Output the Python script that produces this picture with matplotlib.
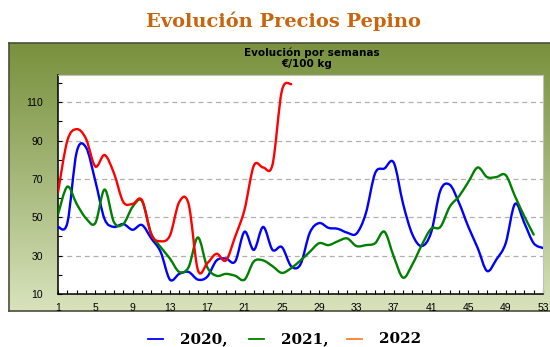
import numpy as np
import matplotlib
matplotlib.use("Agg")
import matplotlib.pyplot as plt
from matplotlib.path import Path
from matplotlib.patches import PathPatch
from matplotlib.lines import Line2D

# weekly cucumber prices, €/100 kg
weeks = list(range(1, 54))
p2020 = [45, 47, 84, 86.5, 69, 49, 45, 46.5, 43.5, 46,
         39, 32, 17.5, 20.5, 21.5, 17.5, 19, 27.5, 28.5, 27,
         42.5, 33, 45, 33, 34.5, 24.5, 25.5, 42, 47, 44.5,
         44, 42, 41.5, 52, 73, 75.5, 78.5, 57, 41, 35,
         42, 64, 67, 57.5, 45, 34, 22, 28, 36.5, 57,
         47, 36.5, 34]
p2021 = [51.5, 66, 57, 49.5, 47, 64.5, 47.5, 46.5, 55.5, 58.5,
         41.5, 34.5, 28.5, 21.5, 24, 39.5, 24, 19.5, 20.5, 19.5,
         17.5, 27, 27.5, 24.5, 21, 23.5, 27.5, 32, 36.5, 35.5,
         37.5, 39, 35, 35.5, 36.5, 42.5, 29.5, 18.5, 25.5, 35.5,
         44, 45, 55.5, 61, 68.5, 76, 71, 71, 72, 61,
         50.5, 41]
p2022 = [63, 90, 96, 91, 76.5, 82.5, 73, 58, 57, 59,
         41, 37.5, 40.5, 58, 57, 22.5, 26, 31, 27.5, 40,
         54, 77, 76, 77.5, 116, 119.5]

series = [("2020", p2020, "#0000ff"),
          ("2021", p2021, "#008000"),
          ("2022", p2022, "#ff0000")]
legend_colors = ["#0000ff", "#008000", "#ff7f27"]

W, H = 550, 347


def px(x0, y0, x1, y1):
    # pixel box (top-left origin) -> figure fraction rect
    return [x0 / W, 1 - y1 / H, (x1 - x0) / W, (y1 - y0) / H]


def smooth_path(xs, ys):
    # catmull-rom through the points, written as cubic bezier segments
    pts = np.column_stack([xs, ys]).astype(float)
    verts = [pts[0]]
    codes = [Path.MOVETO]
    n = len(pts)
    for i in range(n - 1):
        p0 = pts[i - 1] if i > 0 else pts[i]
        p1, p2 = pts[i], pts[i + 1]
        p3 = pts[i + 2] if i + 2 < n else pts[i + 1]
        c1 = p1 + (p2 - p0) / 6.0
        c2 = p2 - (p3 - p1) / 6.0
        verts += [c1, c2, p2]
        codes += [Path.CURVE4] * 3
    return Path(verts, codes)


fig = plt.figure(figsize=(W / 100, H / 100), dpi=100)
fig.patch.set_facecolor("white")

# green panel behind the chart
bg = fig.add_axes(px(9, 43, 552, 311))
grad = np.linspace(0, 1, 256).reshape(-1, 1)
top = np.array(matplotlib.colors.to_rgb("#7a923f"))
bot = np.array(matplotlib.colors.to_rgb("#d8e3bd"))
img = top + (bot - top) * grad[..., None] ** 1.1
bg.imshow(img, aspect="auto", extent=(0, 1, 0, 1))
bg.set_xlim(0, 1)
bg.set_ylim(0, 1)
bg.set_xticks([])
bg.set_yticks([])
for s in bg.spines.values():
    s.set_color("#4d4d3a")
    s.set_linewidth(1.2)

fig.text(283 / W, 1 - 21 / H, "Evolución Precios Pepino", ha="center", va="center",
         fontsize=14, fontweight="bold", family="DejaVu Serif", color="#c8650f")
fig.text(312 / W, 1 - 53 / H, "Evolución por semanas", ha="center", va="center",
         fontsize=7.5, fontweight="bold", family="DejaVu Sans", color="black")
fig.text(307 / W, 1 - 64 / H, "€/100 kg", ha="center", va="center",
         fontsize=7.5, fontweight="bold", family="DejaVu Sans", color="black")

ax = fig.add_axes(px(58, 74.5, 543, 294))
ax.set_facecolor("white")
ax.set_xlim(1, 53)
ax.set_ylim(10, 124.5)

for name, vals, col in series:
    path = smooth_path(weeks[:len(vals)], vals)
    ax.add_patch(PathPatch(path, facecolor="none", edgecolor=col, lw=1.7,
                           capstyle="round", joinstyle="round", zorder=3))

ax.set_yticks(range(10, 111, 20))
ax.set_yticks(range(20, 121, 20), minor=True)
ax.set_xticks(range(1, 54, 4))
ax.set_xticks(range(1, 54), minor=True)
for y in range(30, 111, 20):
    ax.axhline(y, color="#b0b0b0", lw=0.9, ls=(0, (4, 3)), zorder=1)

ax.tick_params(which="both", direction="in", length=3, width=0.8, color="black")
ax.tick_params(axis="y", which="major", labelsize=7.5, pad=11)
ax.tick_params(axis="x", which="major", labelsize=7.5, pad=6.5)
for lab in ax.get_xticklabels() + ax.get_yticklabels():
    lab.set_family("Liberation Sans")
ax.spines["left"].set_color("black")
ax.spines["bottom"].set_color("black")
ax.spines["left"].set_linewidth(1.1)
ax.spines["bottom"].set_linewidth(1.1)
ax.spines["top"].set_color("#c0c0c0")
ax.spines["right"].set_color("#c0c0c0")

# legend row under the panel
items = [(148, 180, "2020,"), (249, 281, "2021,"), (347, 379, "2022")]
for (lx, tx, label), col in zip(items, legend_colors):
    fig.add_artist(Line2D([lx / W, (lx + 15) / W], [1 - 339 / H] * 2,
                          color=col, lw=1.3, transform=fig.transFigure))
    fig.text(tx / W, 1 - 339 / H, label, ha="left", va="center", fontsize=11,
             fontweight="bold", family="DejaVu Serif", color="black")

fig.savefig("out.png", dpi=100)
